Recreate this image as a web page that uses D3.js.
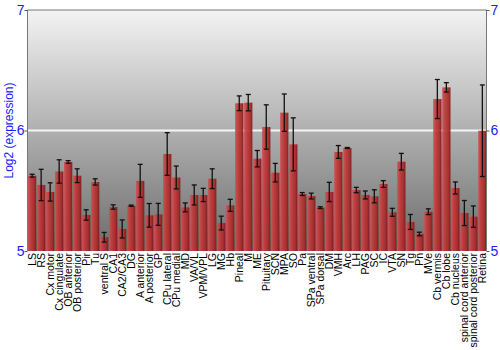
<!DOCTYPE html>
<html>
<head>
<meta charset="utf-8">
<script src="https://cdn.jsdelivr.net/npm/d3@7"></script>
<style>
  html, body { margin: 0; padding: 0; background: #fff; }
  svg { display: block; font-family: "Liberation Sans", Arial, sans-serif; }
</style>
</head>
<body>
<svg id="chart" width="500" height="350"></svg>
<script>
const categories = ["LS","RS","Cx motor","Cx cingulate","OB anterior","OB posterior","Pir","Tu","ventral S","CA1","CA2/CA3","DG","A anterior","A posterior","GP","CPu lateral","CPu medial","MD","VA/VL","VPM/VPL","LG","MG","Hb","Pineal","M","ME","Pituitary","SCN","MPA","SO","Pa","SPa ventral","SPa dorsal","DM","VMH","Arc","LH","PAG","SC","IC","VTA","SN","Tg","Pn","MVe","Cb vermis","Cb lobe","Cb nucleus","spinal cord anterior","spinal cord posterior","Retina"];
const values = [5.625,5.548,5.49,5.66,5.739,5.625,5.299,5.573,5.114,5.365,5.183,5.376,5.582,5.296,5.304,5.805,5.61,5.362,5.465,5.465,5.6,5.232,5.379,6.226,6.231,5.766,6.029,5.65,6.148,5.885,5.473,5.456,5.36,5.49,5.822,5.855,5.506,5.465,5.454,5.556,5.321,5.741,5.241,5.141,5.326,6.261,6.358,5.523,5.315,5.285,5.998];
const errors = [0.012,0.13,0.076,0.097,0.011,0.057,0.043,0.026,0.04,0.018,0.075,0.005,0.137,0.098,0.091,0.177,0.095,0.037,0.083,0.055,0.082,0.057,0.05,0.061,0.068,0.068,0.184,0.077,0.155,0.22,0.012,0.024,0.007,0.08,0.053,0.004,0.022,0.033,0.054,0.028,0.033,0.069,0.062,0.015,0.024,0.162,0.039,0.05,0.104,0.089,0.38];
const yTicks = [5, 6, 7];
const yTitle = "Log2 (expression)";

const svg = d3.select("#chart");
const L = 27.5, R = 486.5, T = 10, B = 251;

const x = d3.scaleBand().domain(categories).range([28, 486.5]).paddingInner(0.08).paddingOuter(0);
const y = d3.scaleLinear().domain([5, 7]).range([B, T]);

const defs = svg.append("defs");
const bg = defs.append("linearGradient").attr("id","bg").attr("x1",0).attr("y1",0).attr("x2",0).attr("y2",1);
bg.append("stop").attr("offset","0%").attr("stop-color","#f3f3f3");
bg.append("stop").attr("offset","100%").attr("stop-color","#6c6c6c");

const bar = defs.append("linearGradient").attr("id","bar").attr("x1",0).attr("y1",0).attr("x2",1).attr("y2",0);
bar.append("stop").attr("offset","0%").attr("stop-color","#c85555");
bar.append("stop").attr("offset","30%").attr("stop-color","#c43a3a");
bar.append("stop").attr("offset","75%").attr("stop-color","#a82828");
bar.append("stop").attr("offset","100%").attr("stop-color","#7a1616");

// background
svg.append("rect").attr("x", L).attr("y", T).attr("width", R - L).attr("height", B - T).attr("fill", "url(#bg)");

// gridline at 6
svg.append("line").attr("x1", L).attr("x2", R).attr("y1", y(6)).attr("y2", y(6))
  .attr("stroke", "#f4f4f4").attr("stroke-width", 2);

// bars
svg.append("g").selectAll("rect").data(categories).join("rect")
  .attr("x", d => x(d))
  .attr("width", x.bandwidth())
  .attr("y", (d, i) => y(values[i]))
  .attr("height", (d, i) => y(5) - y(values[i]))
  .attr("fill", "url(#bar)")
  .attr("opacity", 0.92);

// error bars
const eg = svg.append("g").attr("stroke", "#111").attr("stroke-width", 1.3);
categories.forEach((c, i) => {
  const cx = x(c) + x.bandwidth() / 2;
  const y1 = y(values[i] + errors[i]), y2 = y(values[i] - errors[i]);
  eg.append("line").attr("x1", cx).attr("x2", cx).attr("y1", y1).attr("y2", y2);
  eg.append("line").attr("x1", cx - 2.5).attr("x2", cx + 2.5).attr("y1", y1).attr("y2", y1);
  eg.append("line").attr("x1", cx - 2.5).attr("x2", cx + 2.5).attr("y1", y2).attr("y2", y2);
});

// frame
svg.append("path").attr("d", `M${L},${B}V${T}H${R}V${B}`).attr("fill", "none").attr("stroke", "#777").attr("stroke-width", 1);

// y axes
const leftAxis = d3.axisLeft(y).tickValues(yTicks).tickSize(3).tickFormat(d3.format("d"));
const gl = svg.append("g").attr("transform", `translate(${L},0)`).call(leftAxis);
gl.select(".domain").remove();
gl.selectAll(".tick line").attr("stroke", "#555");
gl.selectAll(".tick text").attr("fill", "#1a1aff").attr("font-size", 14).attr("font-family", "Liberation Sans, Arial, sans-serif").attr("x", -3);

const rightAxis = d3.axisRight(y).tickValues(yTicks).tickSize(3).tickFormat(d3.format("d"));
const gr = svg.append("g").attr("transform", `translate(${R},0)`).call(rightAxis);
gr.select(".domain").remove();
gr.selectAll(".tick line").attr("stroke", "#555");
gr.selectAll(".tick text").attr("fill", "#1a1aff").attr("font-size", 14).attr("font-family", "Liberation Sans, Arial, sans-serif").attr("x", 4);

// y title
svg.append("text").attr("transform", `translate(13,${(T + B) / 2}) rotate(-90)`)
  .attr("text-anchor", "middle").attr("fill", "#1a1aff").attr("font-size", 12).text(yTitle);

// x labels
svg.append("g").selectAll("text").data(categories).join("text")
  .attr("transform", d => `translate(${x(d) + x.bandwidth() / 2},${B + 2}) rotate(-90)`)
  .attr("text-anchor", "end").attr("dy", "0.35em")
  .attr("font-size", 10.5).attr("fill", "#000").text(d => d);
</script>
</body>
</html>
